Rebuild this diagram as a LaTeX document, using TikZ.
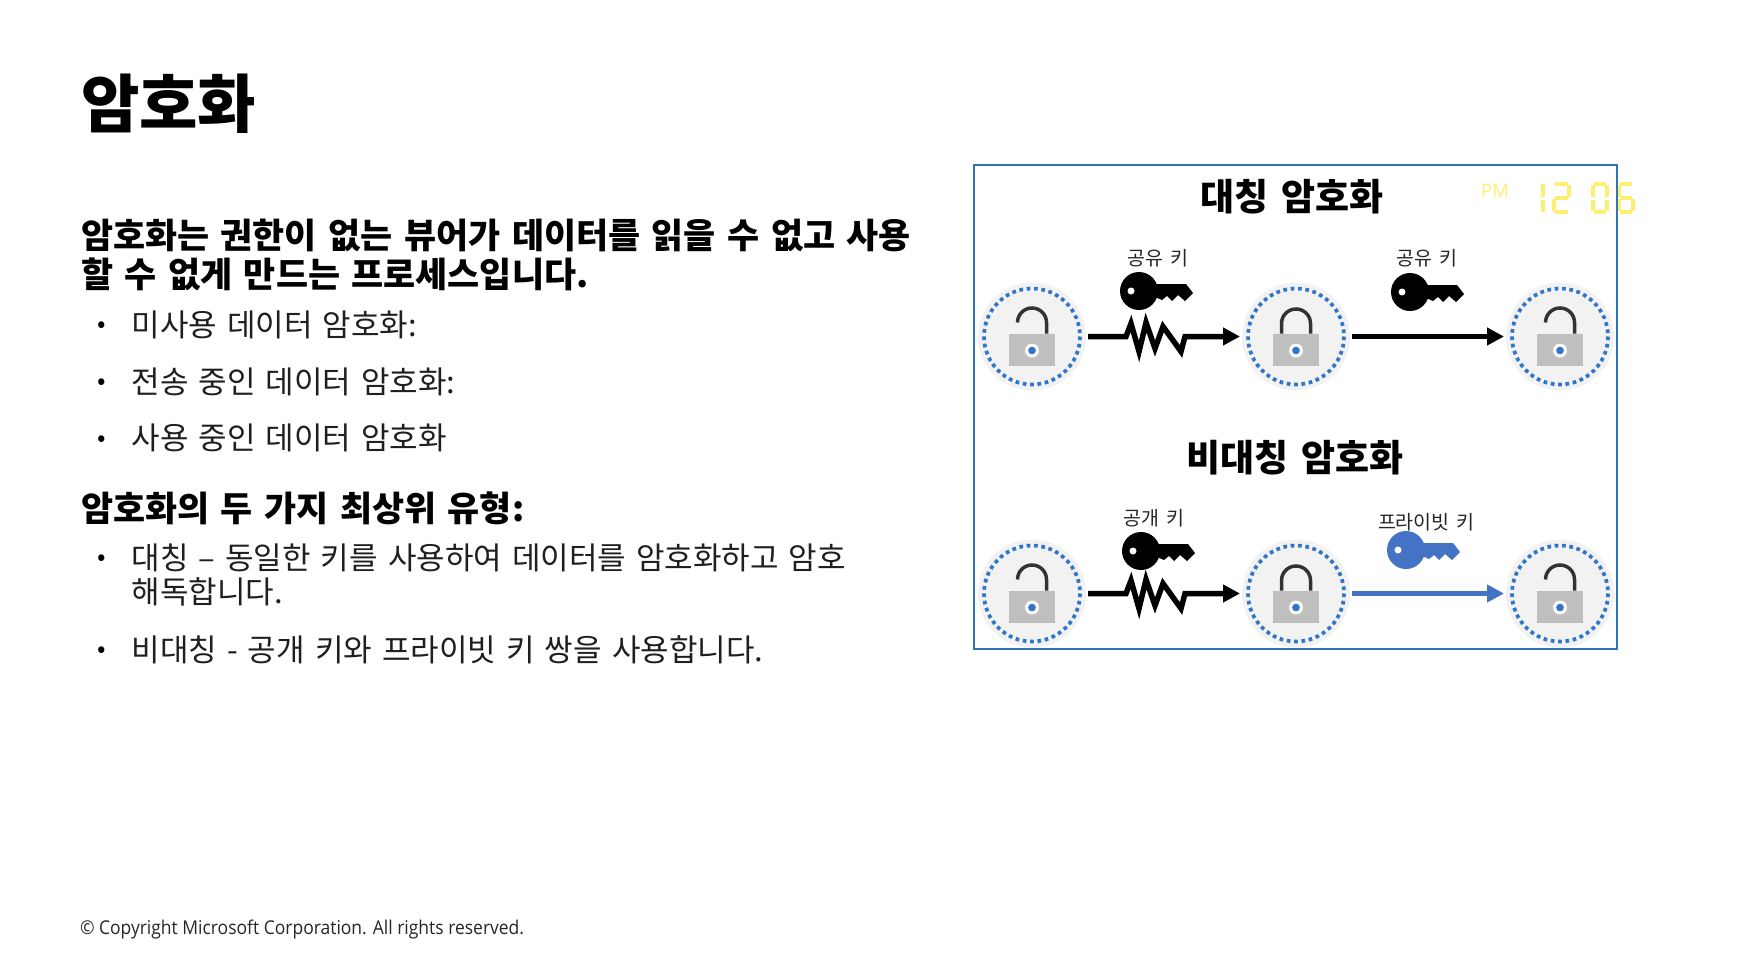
\documentclass[tikz,border=0pt]{standalone}
\usepackage{fontspec}
\setmainfont{Open Sans}
\newfontfamily\segoe[FakeStretch=0.92]{Open Sans}
\newfontfamily\kr[WordSpace=1.45]{Noto Sans CJK KR}
\usetikzlibrary{arrows.meta,calc}
\definecolor{boxblue}{HTML}{2E75B6}
\definecolor{dotblue}{HTML}{2F75C8}
\definecolor{keyblue}{HTML}{4472C4}
\definecolor{lockgray}{HTML}{BFBFBF}
\definecolor{ringgray}{HTML}{F2F2F2}
\definecolor{shackle}{HTML}{333333}
\definecolor{clockyellow}{HTML}{FFEF70}
\tikzset{
  x=1pt,y=-1pt,
  txt/.style={inner sep=0pt,outer sep=0pt,anchor=base west},
  title/.style={txt,font=\kr\bfseries\fontsize{63.5}{66}\selectfont},
  lead/.style={txt,font=\kr\bfseries\fontsize{34.85}{39}\selectfont},
  item/.style={txt,font=\kr\fontsize{31}{34}\selectfont,text=black!88},
  dot/.style={inner sep=0pt,outer sep=0pt,anchor=center,font=\kr\fontsize{25}{25}\selectfont},
  head/.style={inner sep=0pt,outer sep=0pt,anchor=base,font=\kr\bfseries\fontsize{37}{40}\selectfont},
  keylabel/.style={inner sep=0pt,outer sep=0pt,anchor=base,font=\kr\fontsize{19.5}{21}\selectfont,text=black!85},
  ring/.style={circle,minimum size=108pt,inner sep=0pt,outer sep=2pt,fill=ringgray},
  conn/.style={line width=5.5pt,-{Triangle[length=17pt,width=17pt]}},
  zig/.style={line width=5.5pt,-{Triangle[length=17pt,width=17pt]},miter limit=10},
  segm/.style={line width=3.4pt,clockyellow},
  keyicon/.pic={
    \fill[pic actions] (0,0) circle[radius=19]
      (16,-7) -- (47,-7) -- (54,2) -- (46,10) -- (39,4) -- (33,10) -- (28,5) -- (23,9) -- (16,6) -- cycle;
    \fill[white] (-8,0) circle[radius=3.5];
  },
  lockbase/.pic={
    \draw[dotblue,line width=3.7pt,dash pattern=on 3.7pt off 3.66pt] (0,0) circle[radius=48];
    \fill[lockgray] (-23,-3) rectangle (23,29);
    \fill[white!92!lockgray] (0,14) circle[radius=7];
    \fill[dotblue] (0,14) circle[radius=3.8];
  },
  lockclosed/.pic={
    \pic {lockbase};
    \draw[shackle,line width=3.5pt] (-14.5,-3) -- (-14.5,-13) arc[start angle=180,end angle=360,radius=14.5] -- (14.5,-3);
  },
  lockopen/.pic={
    \pic {lockbase};
    \draw[shackle,line width=3.5pt] (-14.5,-14) arc[start angle=180,end angle=360,radius=14.5] -- (14.5,-3);
  },
}
\begin{document}
\begin{tikzpicture}
\useasboundingbox[fill=white] (0,0) rectangle (1744,970);
% left text
\node[title] (t) at (81,127) {암호화};
\node[lead] (l1) at (81,248) {암호화는 권한이 없는 뷰어가 데이터를 읽을 수 없고 사용};
\node[lead] (l2) at (81,287) {할 수 없게 만드는 프로세스입니다.};
\node[dot] (d1) at (102,327) {•};
\node[item] (b1) at (131.5,336) {미사용 데이터 암호화:};
\node[dot] (d2) at (102,384) {•};
\node[item] (b2) at (131.5,393) {전송 중인 데이터 암호화:};
\node[dot] (d3) at (102,441) {•};
\node[item] (b3) at (131.5,449) {사용 중인 데이터 암호화};
\node[lead] (l3) at (81,521) {암호화의 두 가지 최상위 유형:};
\node[dot] (d4) at (102,560) {•};
\node[item] (b4) at (131.5,569) {대칭 – 동일한 키를 사용하여 데이터를 암호화하고 암호};
\node[item] (b4b) at (131.5,603) {해독합니다.};
\node[dot] (d5) at (102,652) {•};
\node[item] (b5) at (131.5,661) {비대칭 - 공개 키와 프라이빗 키 쌍을 사용합니다.};
\node[txt,font=\segoe\fontsize{19}{22}\selectfont,text=black!85] (c) at (80,934) {© Copyright Microsoft Corporation. All rights reserved.};
% clock
\node[inner sep=0pt,anchor=base west,font=\fontsize{18.5}{20}\selectfont,text=clockyellow] (pm) at (1481,197) {PM};
\draw[segm] (1543,184)--(1543,197) (1543,200)--(1543,212);
\draw[segm] (1555,184)--(1568,184) (1569,185)--(1569,197) (1555,198)--(1568,198) (1554,199)--(1554,211) (1555,212)--(1568,212);
\draw[segm] (1593,185)--(1593,197) (1593,200)--(1593,211) (1607,185)--(1607,197) (1607,200)--(1607,211) (1594,184)--(1606,184) (1594,212)--(1606,212);
\draw[segm] (1619,185)--(1619,197) (1619,199)--(1619,211) (1620,184)--(1632,184) (1620,198)--(1632,198) (1633,199)--(1633,211) (1620,212)--(1632,212);
% frame
\draw[boxblue,line width=2pt] (974,165) rectangle (1617,649);
% headings
\node[head] (h1) at (1292,210) {대칭 암호화};
\node[head] (h2) at (1295,471) {비대칭 암호화};
% rings
\node[ring] (a1) at (1032,336.5) {};
\node[ring] (a2) at (1296,336.5) {};
\node[ring] (a3) at (1560,336.5) {};
\node[ring] (b1r) at (1032,593.5) {};
\node[ring] (b2r) at (1296,593.5) {};
\node[ring] (b3r) at (1560,593.5) {};
\pic at (a1) {lockopen};
\pic at (a2) {lockclosed};
\pic at (a3) {lockopen};
\pic at (b1r) {lockopen};
\pic at (b2r) {lockclosed};
\pic at (b3r) {lockopen};
% labels and keys
\node[keylabel] (k1) at (1158,265) {공유 키};
\node[keylabel] (k2) at (1427,265) {공유 키};
\node[keylabel] (k3) at (1154,525) {공개 키};
\node[keylabel] (k4) at (1426,529) {프라이빗 키};
\pic[black] at (1139,291) {keyicon};
\pic[black] at (1410,292) {keyicon};
\pic[black] at (1141,551) {keyicon};
\pic[keyblue] at (1406,550) {keyicon};
% connectors
\draw[zig] (a1.east) -- ++(38,0) -- ++(5,-13) -- ++(8,28) -- ++(7,-29) -- ++(9,26) -- ++(8,-22) -- ++(18,25) -- ++(4,-15) -- (a2.west);
\draw[conn] (a2.east) -- (a3.west);
\draw[zig] (b1r.east) -- ++(38,0) -- ++(5,-13) -- ++(8,28) -- ++(7,-29) -- ++(9,26) -- ++(8,-22) -- ++(18,25) -- ++(4,-15) -- (b2r.west);
\draw[conn,keyblue] (b2r.east) -- (b3r.west);
\end{tikzpicture}
\end{document}
